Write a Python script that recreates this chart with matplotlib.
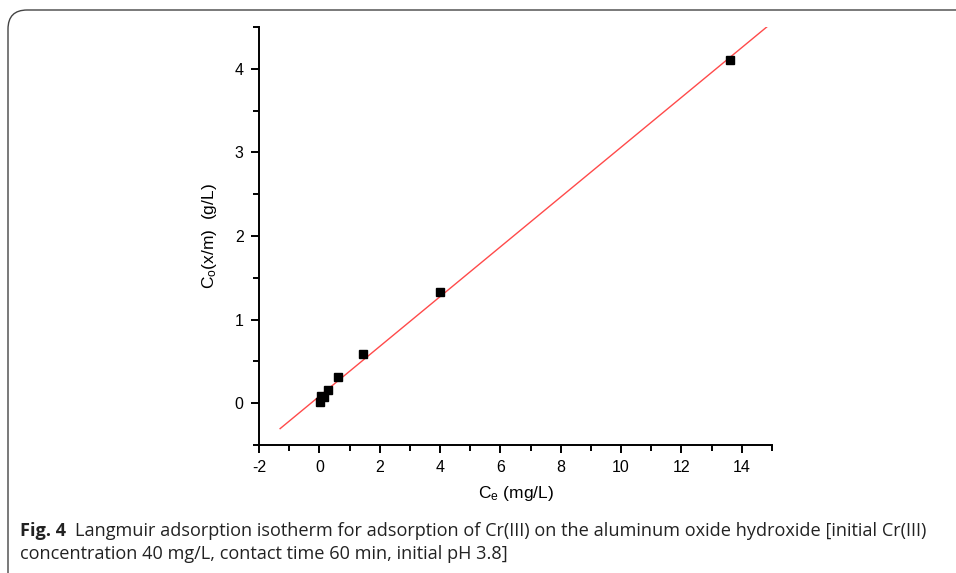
import numpy as np
import matplotlib
matplotlib.use("Agg")
import matplotlib.pyplot as plt
from matplotlib.patches import FancyBboxPatch
from matplotlib.ticker import MultipleLocator

plt.rcParams['font.family'] = ['Liberation Sans', 'DejaVu Sans']
plt.rcParams['mathtext.fontset'] = 'custom'
plt.rcParams['mathtext.rm'] = 'Liberation Sans'
plt.rcParams['mathtext.it'] = 'Liberation Sans:italic'
plt.rcParams['axes.unicode_minus'] = False

# ── data: Langmuir plot, Ce vs Ce/(x/m) ─────────
ce = [0.02, 0.06, 0.17, 0.30, 0.62, 1.45, 4.00, 13.60]
ce_xm = [0.02, 0.09, 0.08, 0.16, 0.31, 0.59, 1.33, 4.11]
fit_range = [-1.3, 14.9]

caption_bold = "Fig. 4"
caption_line1 = ("Langmuir adsorption isotherm for adsorption of Cr(III) on the "
                 "aluminum oxide hydroxide [initial Cr(III)")
caption_line2 = "concentration 40 mg/L, contact time 60 min, initial pH 3.8]"

# linear fit
slope, intercept = np.polyfit(ce, ce_xm, 1)
xf = np.linspace(fit_range[0], fit_range[1], 50)
yf = slope * xf + intercept

fig = plt.figure(figsize=(9.56, 5.73), dpi=100)

# rounded frame around the figure
frame = FancyBboxPatch((8 / 956, -0.2), 1.2, (573 - 10) / 573 + 0.2,
                       boxstyle="round,pad=0,rounding_size=0.02",
                       transform=fig.transFigure, fill=False,
                       edgecolor='#444444', linewidth=1.0, mutation_aspect=956 / 573)
fig.patches.append(frame)

ax = fig.add_axes([259 / 956, 1 - 445 / 573, (772 - 259) / 956, (445 - 27) / 573])
ax.plot(xf, yf, color='#ff4a4a', linewidth=1.0, zorder=2)
ax.plot(ce, ce_xm, linestyle='none', marker='s', markersize=6,
        color='black', zorder=3)

ax.set_xlim(-2, 15)
ax.set_ylim(-0.5, 4.5)
ax.xaxis.set_major_locator(MultipleLocator(2))
ax.xaxis.set_minor_locator(MultipleLocator(1))
ax.yaxis.set_major_locator(MultipleLocator(1))
ax.yaxis.set_minor_locator(MultipleLocator(0.5))

for side in ['top', 'right']:
    ax.spines[side].set_visible(False)
for side in ['left', 'bottom']:
    ax.spines[side].set_linewidth(1.4)
ax.tick_params(which='both', direction='out', width=1.4, labelsize=11.5)
ax.tick_params(which='major', length=6, pad=5)
ax.tick_params(which='minor', length=4)

ax.set_xlabel(r"C$_{\mathrm{e}}$ (mg/L)", fontsize=12.5, labelpad=6)
ax.set_ylabel(r"C$_{\mathrm{o}}$(x/m)  (g/L)", fontsize=12.5, labelpad=11)

cap_font = ['Liberation Sans Narrow', 'Open Sans', 'DejaVu Sans']
fig.text(20 / 956, 1 - 536 / 573, caption_bold, fontsize=13.1, fontweight='bold',
         family=cap_font, color='#222222')
fig.text(75 / 956, 1 - 536 / 573, caption_line1, fontsize=13.1,
         family=cap_font, color='#222222')
fig.text(20 / 956, 1 - 559 / 573, caption_line2, fontsize=13.1,
         family=cap_font, color='#222222')

fig.savefig("out.png", dpi=100)
